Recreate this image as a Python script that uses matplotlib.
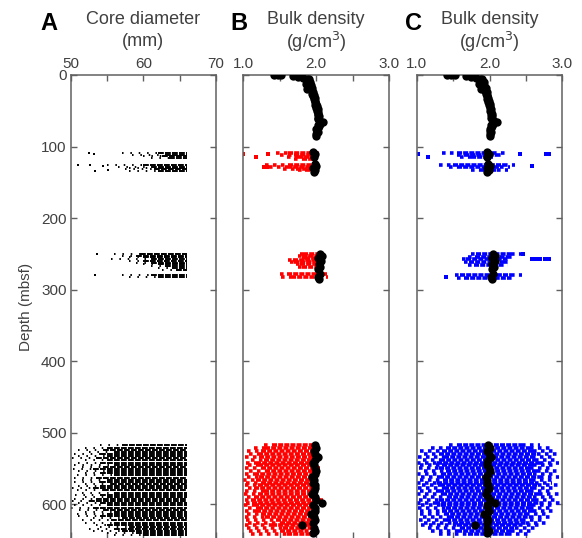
import matplotlib
matplotlib.use("Agg")
import matplotlib.pyplot as plt

plt.rcParams['font.family'] = ['Liberation Sans', 'DejaVu Sans']

# ---- panel A: core diameter (mm), one row per depth band
# depth, sparse left edge, dense left edge (right edge is the liner size)
cd_depth = [109.5, 111.5, 113.5, 116, 126, 128, 130, 132, 134.5,
            250, 252.5, 255, 257.5, 260, 262.5, 265, 267.5, 270, 272.5, 280, 282.5,
            518, 521, 524, 527, 530, 533, 536, 539, 542, 545, 548, 551, 554, 557,
            560, 563, 566, 569, 572, 575, 578, 581, 584, 587, 590, 593, 596, 599,
            602, 605, 608, 611, 614, 617, 620, 623, 626, 629, 632, 635, 638, 641, 644]
cd_lo = [57, 58.5, 60, 61, 55, 56.5, 58, 57.5, 58,
         56, 57, 58, 55.5, 58, 59, 60, 61, 62, 62.5, 57, 58,
         54, 52, 51, 52.5, 50.5, 51, 50.2, 52, 51, 50.5, 51.5, 50.3, 51, 52,
         50.8, 50.4, 51.6, 50.5, 52, 51, 50.2, 50.8, 51.5, 50.6, 52, 50.5, 50.2, 51,
         50.4, 50.1, 51.2, 52, 50.8, 51, 53, 51.5, 52, 53.5, 54, 52.5, 53, 55, 56]
cd_dense_lo = [62, 63, 62.5, 63.5, 60, 61, 62, 61.5, 62,
               59.5, 59, 60, 61, 60, 61, 62, 63, 64, 64.5, 61, 62,
               57, 55, 54.5, 56, 54, 55, 53.5, 55, 54, 56, 54.5, 53, 55, 54,
               56, 53.5, 55, 54, 55.5, 54, 53, 54.5, 56, 54, 55, 53.5, 52.5, 54,
               55, 53, 54.5, 56, 55, 54, 57, 55.5, 56, 55, 58, 56, 57, 59, 60]
cd_max = 66
cd_out_x = [52.5, 53.2, 51.0, 52.6, 53.3, 54.5, 55.2, 53.6, 53.3]
cd_out_y = [109, 111, 126, 126, 134, 127, 133, 250, 280]

# ---- panels B and C: black MAD bulk density points
mad_depth = [0, 0, 0.5, 2, 3, 4, 5, 6, 8, 10, 12, 14, 16, 18, 20, 22, 24, 26, 28,
             30, 32, 34, 36, 38, 40, 42, 44, 46, 48, 50, 52, 54, 56, 58, 60, 62,
             64, 66, 68, 70, 72, 74, 76, 78, 80, 82, 85,
             108, 111, 114, 124, 127, 130, 133, 136,
             250, 253, 256, 260, 264, 268, 272, 278, 282, 285,
             518, 522, 526, 530, 534, 538, 542, 546, 550, 554, 558, 562, 566, 570,
             574, 578, 582, 586, 590, 594, 598, 602, 606, 610, 614, 618, 622, 626,
             630, 634, 638, 641]
mad_dens = [1.42, 1.47, 1.52, 1.68, 1.75, 1.82, 1.87, 1.9, 1.88, 1.92, 1.86, 1.93,
            1.91, 1.95, 1.88, 1.94, 1.96, 1.95, 1.97, 1.96, 1.98, 1.97, 1.99, 1.98,
            2.0, 1.99, 2.01, 2.0, 2.02, 2.01, 2.02, 2.03, 2.02, 2.04, 2.02, 2.03,
            2.06, 2.1, 2.05, 2.02, 2.04, 2.02, 2.0, 2.01, 2.02, 2.0, 2.0,
            1.96, 1.99, 1.97, 1.98, 2.0, 1.96, 1.99, 1.97,
            2.05, 2.08, 2.03, 2.07, 2.04, 2.06, 2.03, 2.05, 2.02, 2.04,
            1.98, 2.0, 1.97, 1.99, 2.02, 1.98, 1.96, 1.97, 1.99, 2.0, 1.98, 1.95,
            1.97, 1.96, 1.98, 1.99, 1.97, 1.95, 1.98, 2.0, 2.08, 1.96, 1.98, 1.99,
            1.93, 1.97, 1.98, 1.96, 1.8, 1.97, 1.99, 1.96]

# ---- panel B: red GRA bulk density rows
# depth, sparse left, dense left, dense right, sparse right
gra_depth = [109.5, 112, 114.5, 117, 126, 128.5, 131, 133.5,
             250, 253, 256, 259, 262, 265, 268, 279, 282,
             518, 522, 526, 530, 534, 538, 542, 546, 550, 554, 558, 562, 566, 570,
             574, 578, 582, 586, 590, 594, 598, 602, 606, 610, 614, 618, 622, 626,
             630, 634, 638, 642]
gra_lo = [1.45, 1.5, 1.6, 1.7, 1.3, 1.35, 1.55, 1.75,
          1.78, 1.75, 1.8, 1.62, 1.64, 1.72, 1.75, 1.5, 1.52,
          1.28, 1.15, 1.05, 1.08, 1.02, 1.1, 1.04, 1.06, 1.02, 1.08, 1.03, 1.05,
          1.0, 1.04, 1.02, 1.06, 1.03, 1.01, 1.05, 1.02, 1.04, 1.01, 1.06, 1.03,
          1.05, 1.02, 1.04, 1.06, 1.03, 1.05, 1.08, 1.1]
gra_dense_lo = [1.62, 1.7, 1.75, 1.8, 1.62, 1.6, 1.72, 1.85,
                1.82, 1.8, 1.85, 1.68, 1.7, 1.78, 1.8, 1.6, 1.65,
                1.4, 1.3, 1.25, 1.2, 1.22, 1.28, 1.18, 1.2, 1.25, 1.3, 1.15, 1.22,
                1.18, 1.25, 1.2, 1.15, 1.28, 1.2, 1.15, 1.1, 1.12, 1.15, 1.2, 1.18,
                1.25, 1.3, 1.45, 1.5, 1.4, 1.55, 1.5, 1.6]
gra_dense_hi = [1.98, 1.95, 1.95, 1.92, 1.95, 1.97, 1.95, 1.95,
                2.0, 2.0, 2.0, 1.98, 2.0, 2.02, 2.02, 2.0, 2.02,
                1.95, 1.94, 1.96, 1.95, 1.93, 1.96, 1.94, 1.95, 1.93, 1.96, 1.95,
                1.94, 1.96, 1.93, 1.95, 1.94, 1.96, 1.95, 1.93, 1.94, 1.96, 1.95,
                1.92, 1.94, 1.93, 1.95, 1.9, 1.92, 1.88, 1.9, 1.85, 1.88]
gra_hi = [2.05, 2.03, 2.0, 1.97, 2.02, 2.0, 1.98, 1.97,
          2.05, 2.08, 2.05, 2.02, 2.08, 2.1, 2.1, 2.15, 2.16,
          2.02, 2.05, 2.0, 2.06, 2.03, 2.0, 2.04, 2.02, 2.05, 2.01, 2.03, 2.06,
          2.02, 2.0, 2.04, 2.02, 2.05, 2.01, 2.03, 2.1, 2.06, 2.02, 2.0, 2.04,
          2.0, 2.02, 2.0, 1.98, 1.95, 1.96, 1.92, 1.95]
gra_out_x = [1.0, 1.17, 1.34, 1.28, 1.33]
gra_out_y = [110, 114, 110, 128, 128]

# ---- panel C: blue bulk density rows
bd_depth = [109.5, 112, 115, 126, 129, 133,
            250, 254, 258, 262, 266, 280, 284,
            518, 522, 526, 530, 534, 538, 542, 546, 550, 554, 558, 562, 566, 570,
            574, 578, 582, 586, 590, 594, 598, 602, 606, 610, 614, 618, 622, 626,
            630, 634, 638, 642]
bd_lo = [1.35, 1.55, 1.6, 1.3, 1.45, 1.75,
         1.75, 1.7, 1.62, 1.65, 1.7, 1.52, 1.55,
         1.45, 1.2, 1.05, 1.1, 1.02, 1.08, 1.0, 1.05, 1.03, 1.1, 1.01, 1.06,
         1.04, 1.0, 1.07, 1.02, 1.05, 1.0, 1.08, 1.03, 1.01, 1.06, 1.02, 1.04,
         1.05, 1.08, 1.03, 1.1, 1.06, 1.15, 1.2, 1.3]
bd_dense_lo = [1.55, 1.65, 1.75, 1.5, 1.55, 1.85,
               1.82, 1.8, 1.68, 1.72, 1.78, 1.6, 1.65,
               1.55, 1.4, 1.35, 1.3, 1.38, 1.32, 1.28, 1.35, 1.3, 1.4, 1.33, 1.3,
               1.36, 1.28, 1.32, 1.38, 1.3, 1.35, 1.42, 1.3, 1.25, 1.33, 1.4, 1.35,
               1.38, 1.45, 1.4, 1.5, 1.55, 1.6, 1.55, 1.7]
bd_dense_hi = [2.05, 2.1, 2.0, 2.2, 2.15, 2.1,
               2.3, 2.25, 2.2, 2.2, 2.15, 2.3, 2.25,
               2.45, 2.55, 2.6, 2.65, 2.58, 2.62, 2.7, 2.6, 2.55, 2.65, 2.6, 2.7,
               2.58, 2.62, 2.66, 2.6, 2.55, 2.68, 2.6, 2.62, 2.7, 2.58, 2.55, 2.6,
               2.5, 2.55, 2.45, 2.5, 2.4, 2.35, 2.3, 2.25]
bd_hi = [2.25, 2.2, 2.05, 2.35, 2.28, 2.25,
         2.45, 2.35, 2.28, 2.3, 2.25, 2.45, 2.35,
         2.7, 2.85, 2.9, 2.95, 2.88, 2.92, 2.96, 2.9, 2.85, 2.93, 2.88, 2.95,
         2.9, 2.86, 2.94, 2.9, 2.85, 2.96, 2.9, 2.92, 2.97, 2.88, 2.85, 2.9,
         2.8, 2.85, 2.75, 2.8, 2.7, 2.65, 2.6, 2.55]
bd_out_x = [1.02, 1.16, 2.42, 2.78, 2.82, 2.58, 2.46, 2.58, 2.64, 2.7, 2.76, 2.82, 1.4]
bd_out_y = [110, 115, 110, 110, 110, 127, 250, 258, 258, 258, 258, 258, 282]

GRAY = '#404040'
SPINE = '#606060'


def draw_rows(ax, depth, lo, dlo, dhi, hi, color, lw, dense_ls, sparse_ls):
    ax.hlines(depth, lo, dlo, colors=color, lw=lw, linestyles=[sparse_ls])
    ax.hlines(depth, dhi, hi, colors=color, lw=lw, linestyles=[sparse_ls])
    ax.hlines(depth, dlo, dhi, colors=color, lw=lw, linestyles=[dense_ls])


def style_axis(ax, xlim, xticks, xlabels, show_y):
    ax.set_xlim(*xlim)
    ax.set_ylim(647.5, 0)
    ax.set_xticks(xticks)
    ax.set_xticklabels(xlabels)
    ax.set_yticks([0, 100, 200, 300, 400, 500, 600])
    if not show_y:
        ax.set_yticklabels([])
    ax.tick_params(direction='in', top=True, bottom=True, left=True, right=True,
                   labeltop=True, labelbottom=False, length=4, width=1,
                   color=SPINE, labelcolor=GRAY, labelsize=11, pad=3)
    for s in ['top', 'left', 'right']:
        ax.spines[s].set_color(SPINE)
        ax.spines[s].set_linewidth(1.1)
    ax.spines['bottom'].set_visible(False)


fig = plt.figure(figsize=(5.82, 5.38), dpi=100)
axA = fig.add_axes([0.1215, 0.0, 0.2497, 0.8606])
axB = fig.add_axes([0.418, 0.0, 0.2503, 0.8606])
axC = fig.add_axes([0.716, 0.0, 0.2502, 0.8606])

# A
draw_rows(axA, cd_depth, cd_lo, cd_dense_lo, [cd_max] * len(cd_depth), [cd_max] * len(cd_depth),
          'k', 1.4, (0, (3, 0.6)), (0, (0.8, 3.5)))
axA.scatter(cd_out_x, cd_out_y, s=2, c='k', marker='s', linewidths=0)
style_axis(axA, (50, 70), [50, 55, 60, 65, 70], ['50', '', '60', '', '70'], True)
axA.set_ylabel('Depth (mbsf)', fontsize=11, color=GRAY, labelpad=6)

# B
draw_rows(axB, gra_depth, gra_lo, gra_dense_lo, gra_dense_hi, gra_hi,
          'red', 2.6, (0, (1.4, 0.3)), (0, (1, 1.2)))
axB.scatter(gra_out_x, gra_out_y, s=9, c='red', marker='s', linewidths=0)
axB.scatter(mad_dens, mad_depth, s=36, c='k', linewidths=0, zorder=5)
style_axis(axB, (1.0, 3.0), [1.0, 1.5, 2.0, 2.5, 3.0], ['1.0', '', '2.0', '', '3.0'], False)

# C
draw_rows(axC, bd_depth, bd_lo, bd_dense_lo, bd_dense_hi, bd_hi,
          'blue', 2.6, (0, (1.4, 0.3)), (0, (1, 1.2)))
axC.scatter(bd_out_x, bd_out_y, s=9, c='blue', marker='s', linewidths=0)
axC.scatter(mad_dens, mad_depth, s=36, c='k', linewidths=0, zorder=5)
style_axis(axC, (1.0, 3.0), [1.0, 1.5, 2.0, 2.5, 3.0], ['1.0', '', '2.0', '', '3.0'], False)

# headers
H, W = 538.0, 582.0
for letter, lx in [('A', 49), ('B', 239), ('C', 413)]:
    fig.text(lx / W, 1 - 24 / H, letter, fontsize=17, fontweight='bold',
             ha='center', va='center', color='k')
for ax, l1, l2 in [(axA, 'Core diameter', '(mm)'),
                   (axB, 'Bulk density', '(g/cm$^3$)'),
                   (axC, 'Bulk density', '(g/cm$^3$)')]:
    pos = ax.get_position()
    cx = (pos.x0 + pos.x1) / 2
    fig.text(cx, 1 - 20 / H, l1, fontsize=13, ha='center', va='center', color=GRAY)
    fig.text(cx, 1 - 42 / H, l2, fontsize=13, ha='center', va='center', color=GRAY)

fig.savefig('out.png', dpi=100)
